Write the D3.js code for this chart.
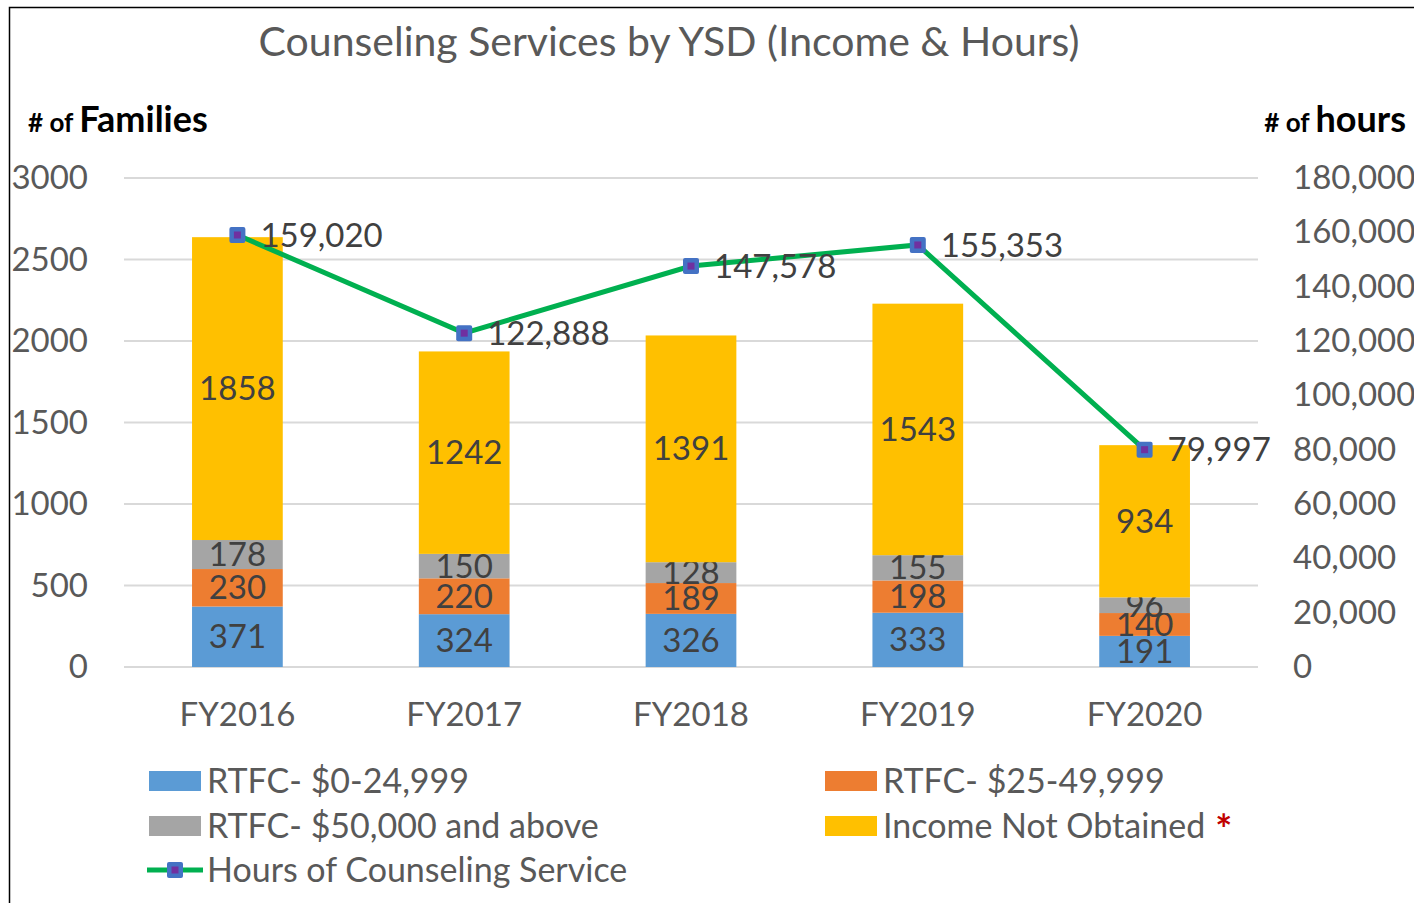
<!DOCTYPE html>
<html>
<head>
<meta charset="utf-8">
<script src="https://cdn.jsdelivr.net/npm/d3@7"></script>
<style>
  html, body { margin: 0; padding: 0; background: #fff; }
  svg { display: block; font-family: Lato, "Open Sans", sans-serif; }
</style>
</head>
<body>
<div id="chart"></div>
<script>
// --- Data ---
const years = ["FY2016", "FY2017", "FY2018", "FY2019", "FY2020"];
const seriesNames = ["RTFC- $0-24,999", "RTFC- $25-49,999", "RTFC- $50,000 and above", "Income Not Obtained"];
const low = [371, 324, 326, 333, 191];
const mid = [230, 220, 189, 198, 140];
const high = [178, 150, 128, 155, 96];
const notObtained = [1858, 1242, 1391, 1543, 934];
const hours = [159020, 122888, 147578, 155353, 79997];
const leftTicks = [0, 500, 1000, 1500, 2000, 2500, 3000];
const rightTicks = [0, 20000, 40000, 60000, 80000, 100000, 120000, 140000, 160000, 180000];
const colors = ["#5B9BD5", "#ED7D31", "#A5A5A5", "#FFC000"];

const W = 1414, H = 903;
const margin = { top: 178, right: 156, bottom: 236, left: 124 };
const width = W - margin.left - margin.right;
const height = H - margin.top - margin.bottom;
const fs = 33; // main text size

const svg = d3.select("#chart").append("svg")
    .attr("width", W).attr("height", H);

// outer border
svg.append("rect")
    .attr("x", 9.5).attr("y", 7.5)
    .attr("width", W).attr("height", H)
    .attr("fill", "none").attr("stroke", "#000").attr("stroke-width", 1.5);

svg.append("text")
    .attr("x", 669).attr("y", 56)
    .attr("text-anchor", "middle")
    .attr("font-size", 41).attr("fill", "#595959")
    .text("Counseling Services by YSD (Income & Hours)");

// axis titles
const lt = svg.append("text").attr("x", 28).attr("y", 132).attr("font-weight", "bold").attr("fill", "#000");
lt.append("tspan").attr("font-size", 26).text("# of ");
lt.append("tspan").attr("font-size", 36).text("Families");
const rt = svg.append("text").attr("x", 1406).attr("y", 132).attr("text-anchor", "end").attr("font-weight", "bold").attr("fill", "#000");
rt.append("tspan").attr("font-size", 26).text("# of ");
rt.append("tspan").attr("font-size", 36).text("hours");

const g = svg.append("g").attr("transform", `translate(${margin.left},${margin.top})`);

const x = d3.scaleBand().domain(years).range([0, width]).paddingInner(0.6).paddingOuter(0.3);
const y = d3.scaleLinear().domain([0, 3000]).range([height, 0]);
const y2 = d3.scaleLinear().domain([0, 180000]).range([height, 0]);

// gridlines
g.selectAll(".grid").data(leftTicks).enter().append("line")
    .attr("x1", 0).attr("x2", width)
    .attr("y1", d => y(d)).attr("y2", d => y(d))
    .attr("stroke", "#D9D9D9").attr("stroke-width", 2);

// left axis
const yAxis = g.append("g").call(d3.axisLeft(y).tickValues(leftTicks).tickSize(0).tickPadding(36).tickFormat(d3.format("d")));
yAxis.select(".domain").remove();
yAxis.selectAll("text").attr("font-size", fs).attr("fill", "#595959").attr("font-family", "Lato, sans-serif");

// right axis
const y2Axis = g.append("g").attr("transform", `translate(${width},0)`)
    .call(d3.axisRight(y2).tickValues(rightTicks).tickSize(0).tickPadding(35).tickFormat(d3.format(",")));
y2Axis.select(".domain").remove();
y2Axis.selectAll("text").attr("font-size", fs).attr("fill", "#595959").attr("font-family", "Lato, sans-serif");

// x axis
const xAxis = g.append("g").attr("transform", `translate(0,${height})`)
    .call(d3.axisBottom(x).tickSize(0).tickPadding(36));
xAxis.select(".domain").remove();
xAxis.selectAll("text").attr("font-size", fs).attr("fill", "#595959").attr("font-family", "Lato, sans-serif");

// stacked bars
const rows = years.map((yr, i) => ({ year: yr, s0: low[i], s1: mid[i], s2: high[i], s3: notObtained[i] }));
const stack = d3.stack().keys(["s0", "s1", "s2", "s3"])(rows);

stack.forEach((layer, li) => {
    const lg = g.append("g");
    lg.selectAll("rect").data(layer).enter().append("rect")
        .attr("x", d => x(d.data.year))
        .attr("y", d => y(d[1]))
        .attr("width", x.bandwidth())
        .attr("height", d => y(d[0]) - y(d[1]))
        .attr("fill", colors[li]);
    lg.selectAll("text").data(layer).enter().append("text")
        .attr("x", d => x(d.data.year) + x.bandwidth() / 2)
        .attr("y", d => (y(d[0]) + y(d[1])) / 2)
        .attr("dy", "0.35em")
        .attr("text-anchor", "middle")
        .attr("font-size", fs).attr("fill", "#404040")
        .text(d => d[1] - d[0]);
});

// line
const line = d3.line().x((d, i) => x(years[i]) + x.bandwidth() / 2).y(d => y2(d));
g.append("path").datum(hours)
    .attr("d", line).attr("fill", "none")
    .attr("stroke", "#00B050").attr("stroke-width", 5);

const pts = g.selectAll(".pt").data(hours).enter().append("g")
    .attr("transform", (d, i) => `translate(${x(years[i]) + x.bandwidth() / 2},${y2(d)})`);
pts.append("rect").attr("x", -8).attr("y", -8).attr("width", 16).attr("height", 16).attr("rx", 2)
    .attr("fill", "#4472C4");
pts.append("rect").attr("x", -3.5).attr("y", -3.5).attr("width", 7).attr("height", 7)
    .attr("fill", "#7030A0");
pts.append("text")
    .attr("x", 23).attr("dy", "0.35em")
    .attr("font-size", fs).attr("fill", "#404040")
    .text(d => d3.format(",")(d));

// legend
const legendItems = [
    { name: seriesNames[0], color: colors[0], x: 149, y: 781 },
    { name: seriesNames[1], color: colors[1], x: 825, y: 781 },
    { name: seriesNames[2], color: colors[2], x: 149, y: 826 },
    { name: seriesNames[3], color: colors[3], x: 825, y: 826 }
];
legendItems.forEach(it => {
    svg.append("rect").attr("x", it.x).attr("y", it.y - 10).attr("width", 52).attr("height", 20).attr("fill", it.color);
    const t = svg.append("text").attr("x", it.x + 58).attr("y", it.y).attr("dy", "0.35em")
        .attr("font-size", 34).attr("fill", "#595959").text(it.name);
    if (it.name === "Income Not Obtained") {
        t.append("tspan").attr("dx", 10).attr("dy", "0.15em").attr("fill", "#C00000").attr("font-weight", "bold").attr("font-size", 40).text("*");
    }
});
svg.append("line").attr("x1", 147).attr("x2", 203).attr("y1", 870).attr("y2", 870)
    .attr("stroke", "#00B050").attr("stroke-width", 5);
svg.append("rect").attr("x", 167).attr("y", 862).attr("width", 16).attr("height", 16).attr("rx", 2).attr("fill", "#4472C4");
svg.append("rect").attr("x", 171.5).attr("y", 866.5).attr("width", 7).attr("height", 7).attr("fill", "#7030A0");
svg.append("text").attr("x", 207).attr("y", 870).attr("dy", "0.35em")
    .attr("font-size", 34).attr("fill", "#595959").text("Hours of Counseling Service");
</script>
</body>
</html>
